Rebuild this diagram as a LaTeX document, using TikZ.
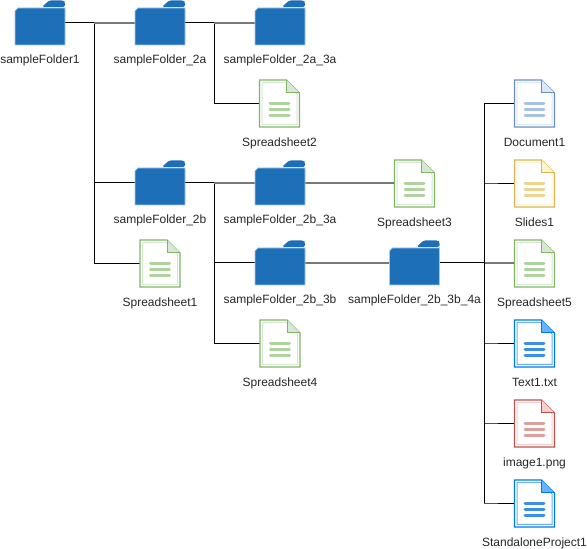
\documentclass[tikz,border=0pt]{standalone}
\usepackage{fontspec}
\setmainfont{Liberation Sans}
\definecolor{folderBlue}{RGB}{29,111,184}
\definecolor{folderEdge}{RGB}{160,200,235}
\definecolor{linkGray}{RGB}{120,120,120}
\definecolor{sheetLine}{RGB}{130,179,102}
\definecolor{sheetFill}{RGB}{213,232,212}
\definecolor{sheetBar}{RGB}{176,210,159}
\definecolor{docLine}{RGB}{108,142,191}
\definecolor{docFill}{RGB}{218,232,252}
\definecolor{docBar}{RGB}{169,193,227}
\definecolor{slideLine}{RGB}{214,182,86}
\definecolor{slideFill}{RGB}{255,242,204}
\definecolor{slideBar}{RGB}{234,213,145}
\definecolor{imageLine}{RGB}{184,84,80}
\definecolor{imageFill}{RGB}{248,206,204}
\definecolor{imageBar}{RGB}{220,159,156}
\definecolor{textLine}{RGB}{0,120,230}
\definecolor{textFill}{RGB}{102,178,255}
\definecolor{textBar}{RGB}{60,143,232}
\usetikzlibrary{positioning}
\tikzset{
  folderbox/.style={minimum width=37.5pt,minimum height=33pt,inner sep=0pt,outer sep=0pt},
  filebox/.style={minimum width=30pt,minimum height=35.25pt,inner sep=0pt,outer sep=0pt},
  itemlabel/.style={font=\fontsize{9pt}{11pt}\selectfont,text=black!85,inner sep=0pt,text height=7pt,text depth=2pt},
  link/.style={black,line width=0.75pt},
  graylink/.style={linkGray,line width=1.1pt},
  folderpic/.pic={
    \fill[folderBlue,rounded corners=1.2pt] (9,-22.5) -- (23.5,-22.5) -- (25,-21) -- (25,-16) -- (2,-16) -- cycle;
    \draw[folderEdge,fill=folderBlue,line width=0.4pt] (-25,22) -- (-25,-12) -- (-22,-15) -- (25,-15) -- (25,22) -- cycle;
  },
  pics/filepic/.style n args={3}{code={
    \draw[#1,line width=1pt,fill=white] (-20,-23.5) -- (7,-23.5) -- (20,-10.5) -- (20,23.5) -- (-20,23.5) -- cycle;
    \draw[#2,line width=0.75pt] (-17.5,-21) -- (6,-21) -- (17.5,-9.5) -- (17.5,21) -- (-17.5,21) -- cycle;
    \fill[#2] (7,-23.5) -- (20,-10.5) -- (7,-10.5) -- cycle;
    \draw[#1,line width=0.75pt] (7,-23.5) -- (7,-10.5) -- (20,-10.5);
    \foreach \d in {0,6,12} {
      \draw[#3,line width=2.25pt,line cap=round] (-9.5,\d) -- (9.5,\d);
    }
  }},
}
\begin{document}
\begin{tikzpicture}[x=0.75pt,y=-0.75pt]
  \useasboundingbox (0,0) rectangle (587,549);
  % folders
  \foreach \n/\x/\y/\t in {folderOne/40/23/sampleFolder1,
      folderTwoA/160/23/sampleFolder\_2a,
      folderThreeA/280/23/sampleFolder\_2a\_3a,
      folderTwoB/160/183/sampleFolder\_2b,
      folderTwoBA/280/183/sampleFolder\_2b\_3a,
      folderTwoBB/280/263/sampleFolder\_2b\_3b,
      folderFour/414.5/263/sampleFolder\_2b\_3b\_4a} {
    \node[folderbox] (\n) at (\x,\y) {};
    \node[itemlabel,below=7pt of \n] (\n label) {\t};
  }
  % files
  \foreach \n/\x/\y/\t in {sheetTwo/279.5/103.5/Spreadsheet2,
      sheetThree/414.5/183.5/Spreadsheet3,
      sheetOne/160/263.5/Spreadsheet1,
      sheetFour/280/343.5/Spreadsheet4,
      docOne/534.5/103.5/Document1,
      slideOne/534.5/183.5/Slides1,
      sheetFive/534.5/263.5/Spreadsheet5,
      textOne/534.5/343.5/Text1.txt,
      imageOne/534.5/423.5/image1.png,
      projectOne/534.5/503.5/StandaloneProject1} {
    \node[filebox] (\n) at (\x,\y) {};
    \node[itemlabel,below=7.75pt of \n] (\n label) {\t};
  }
  % rails
  \coordinate (railOne) at (94,23);
  \coordinate (railTwoA) at (214,23);
  \coordinate (railTwoB) at (214,183);
  \coordinate (railFour) at (484,263);
  \draw[link] (folderOne.east) -- (railOne) -- (railOne |- sheetOne.west) -- (sheetOne.west);
  \draw[link] (railOne |- folderTwoB.west) -- (folderTwoB.west);
  \draw[graylink] (railOne) -- (folderTwoA.west);
  \draw[link] (folderTwoA.east) -- (railTwoA) -- (railTwoA |- sheetTwo.west) -- (sheetTwo.west);
  \draw[graylink] (railTwoA) -- (folderThreeA.west);
  \draw[link] (folderTwoB.east) -- (railTwoB) -- (railTwoB |- sheetFour.west) -- (sheetFour.west);
  \draw[link] (railTwoB |- folderTwoBB.west) -- (folderTwoBB.west);
  \draw[graylink] (railTwoB) -- (folderTwoBA.west);
  \draw[graylink] (folderTwoBA.east) -- (folderTwoBA.east -| sheetThree.west);
  \draw[graylink] (folderTwoBB.east) -- (folderFour.west);
  \draw[link] (folderFour.east) -- (railFour);
  \draw[graylink] (railFour) -- (railFour -| sheetFive.west);
  \draw[link] (railFour |- docOne.west) -- (docOne.west);
  \foreach \n in {slideOne,textOne,imageOne,projectOne} {
    \draw[link] (railFour |- \n.west) -- (\n.west);
    \draw[graylink,opacity=0.7] (railFour |- \n.west) -- ++(14,0);
  }
  \draw[link] (railFour |- docOne.west) -- (railFour |- projectOne.west);
  % icons on top
  \foreach \n in {folderOne,folderTwoA,folderThreeA,folderTwoB,folderTwoBA,folderTwoBB,folderFour} {
    \pic at (\n) {folderpic};
  }
  \foreach \n/\c/\f/\b in {sheetOne/sheetLine/sheetFill/sheetBar,sheetTwo/sheetLine/sheetFill/sheetBar,
      sheetThree/sheetLine/sheetFill/sheetBar,sheetFour/sheetLine/sheetFill/sheetBar,
      sheetFive/sheetLine/sheetFill/sheetBar,docOne/docLine/docFill/docBar,
      slideOne/slideLine/slideFill/slideBar,textOne/textLine/textFill/textBar,
      imageOne/imageLine/imageFill/imageBar,projectOne/textLine/textFill/textBar} {
    \pic at (\n) {filepic={\c}{\f}{\b}};
  }
\end{tikzpicture}
\end{document}
